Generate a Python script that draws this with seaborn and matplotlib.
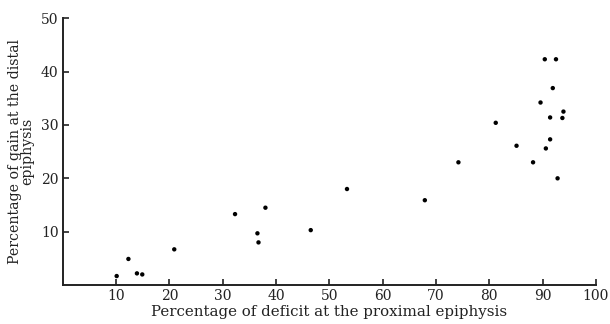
'''
    Deficit at proximal vs gain at distal epiphysis
'''

import matplotlib
matplotlib.use('Agg')
import matplotlib.pyplot as plt
import seaborn as sns
import pandas as pd

deficit = [10.1, 12.3, 13.9, 14.9, 20.9, 32.3, 36.5, 36.7, 38.0, 46.5,
           53.3, 67.9, 74.2, 81.2, 85.1, 88.2, 89.6, 90.4, 90.6, 91.4,
           91.4, 91.9, 92.5, 92.8, 93.7, 93.9]
gain = [1.7, 4.9, 2.2, 2.0, 6.7, 13.3, 9.7, 8.0, 14.5, 10.3,
        18.0, 15.9, 23.0, 30.4, 26.1, 23.0, 34.2, 42.3, 25.6, 31.4,
        27.3, 36.9, 42.3, 20.0, 31.3, 32.5]
xticks = [10, 20, 30, 40, 50, 60, 70, 80, 90, 100]
yticks = [10, 20, 30, 40, 50]

data = pd.DataFrame({'deficit': deficit, 'gain': gain})

sns.set_style('ticks')
plt.rcParams['font.family'] = ['DejaVu Serif']

fig = plt.figure(figsize=(6.1, 3.24), dpi=100)
ax = fig.add_axes([0.103, 0.120, 0.874, 0.824])

sns.scatterplot(data=data, x='deficit', y='gain', color='black', s=10,
                edgecolor='none', ax=ax)

ax.set_xlim(0, 100)
ax.set_ylim(0, 50)
ax.set_xticks(xticks)
ax.set_yticks(yticks)
ax.tick_params(direction='in', length=4, width=1.2, labelsize=10, colors='#222222', pad=3)
for s in ['left', 'bottom']:
    ax.spines[s].set_linewidth(1.4)
    ax.spines[s].set_color('#222222')
sns.despine(ax=ax)

ax.set_xlabel('Percentage of deficit at the proximal epiphysis', fontsize=10.8,
              labelpad=1, color='#222222')
ax.set_ylabel('Percentage of gain at the distal\nepiphysis', fontsize=10.2,
              labelpad=5, color='#222222', linespacing=0.85,
              multialignment='center')

fig.savefig('out.png', dpi=100)
